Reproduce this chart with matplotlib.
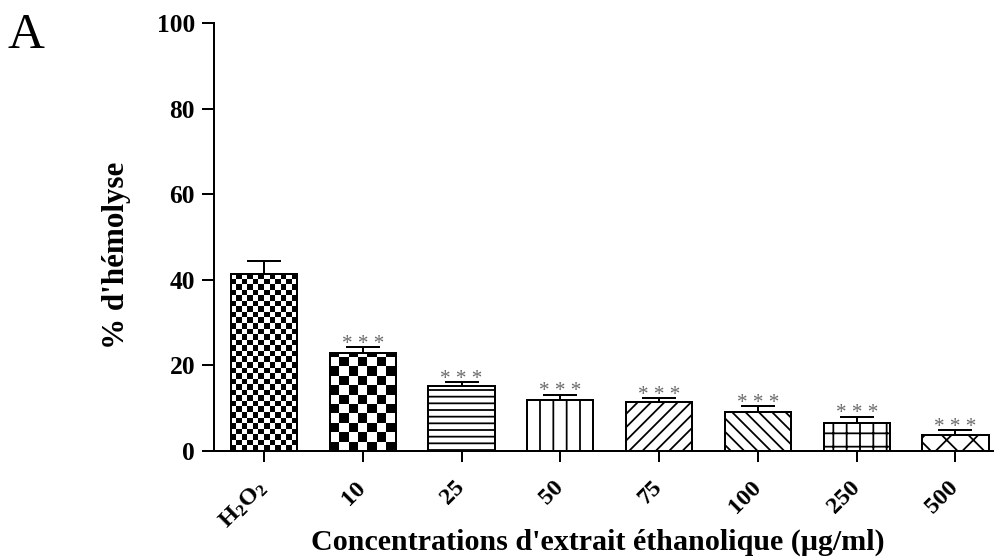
import numpy as np
import matplotlib.pyplot as plt

labels = [r'$\mathbf{H_2O_2}$', '10', '25', '50', '75', '100', '250', '500']
hemolyse = [41.3, 22.8, 15.1, 12.0, 11.5, 9.2, 6.6, 3.7]
sem = [3.2, 1.4, 1.0, 1.2, 0.9, 1.2, 1.4, 1.1]
signif = ['', '***', '***', '***', '***', '***', '***', '***']
hatches = [None, None, '--', '|', '//', '\\\\', '+', 'x']
# checkerboard: (columns across the bar, cell height in % units)
checkers = [(12, 1.3), (7, 2.2), None, None, None, None, None, None]

plt.rcParams['font.family'] = ['Liberation Serif', 'DejaVu Serif']
plt.rcParams['font.weight'] = 'bold'
plt.rcParams['axes.labelweight'] = 'bold'
plt.rcParams['mathtext.fontset'] = 'custom'
plt.rcParams['mathtext.bf'] = 'Liberation Serif:bold'
plt.rcParams['mathtext.rm'] = 'Liberation Serif:bold'
plt.rcParams['hatch.linewidth'] = 1.6
plt.rcParams['hatch.color'] = 'black'

fig = plt.figure(figsize=(994 / 80, 558 / 80), dpi=80)
ax = fig.add_axes([214 / 994, 107 / 558, 780 / 994, 428 / 558])

x = np.arange(len(labels))
width = 0.67

bars = ax.bar(x, hemolyse, width, facecolor='white', edgecolor='black',
              linewidth=1.8, zorder=3)
for b, h in zip(bars, hatches):
    if h:
        b.set_hatch(h)

# checkerboard fills
for i, (b, chk) in enumerate(zip(bars, checkers)):
    if chk is None:
        continue
    ncol, dy = chk
    x0 = b.get_x()
    xe = np.linspace(x0, x0 + b.get_width(), ncol + 1)
    nrow = int(np.ceil(b.get_height() / dy)) + 1
    ye = np.arange(nrow + 1) * dy
    board = (np.add.outer(np.arange(nrow), np.arange(ncol)) % 2).astype(float)
    mesh = ax.pcolormesh(xe, ye, board, cmap='gray', vmin=0, vmax=1,
                         zorder=3.5, shading='flat')
    mesh.set_clip_path(b)
    ax.bar(x[i], hemolyse[i], width, fill=False, edgecolor='black',
           linewidth=1.8, zorder=4)

ax.errorbar(x, hemolyse, yerr=[np.zeros(len(sem)), sem], fmt='none',
            ecolor='black', elinewidth=1.8, capsize=15, capthick=1.8, zorder=5)

for i in range(len(x)):
    if signif[i]:
        ax.annotate('* * *', xy=(x[i], hemolyse[i] + sem[i]), xytext=(0, -1.5),
                    textcoords='offset points', ha='center', va='baseline',
                    fontsize=19, fontweight='normal', color='#6a6a6a', zorder=6)

ax.set_xlim(-0.506, 7.39)
ax.set_ylim(0, 100)
ax.set_yticks([0, 20, 40, 60, 80, 100])
ax.set_xticks(x)
ax.set_xticklabels(labels, rotation=45, ha='right', va='center',
                   rotation_mode='anchor', fontsize=22)
ax.tick_params(axis='y', labelsize=23, length=11, width=1.8, pad=6)
ax.tick_params(axis='x', length=10, width=1.8, pad=20)
for s in ['top', 'right']:
    ax.spines[s].set_visible(False)
for s in ['left', 'bottom']:
    ax.spines[s].set_linewidth(1.8)

ax.set_ylabel("% d'hémolyse", fontsize=28, fontweight='bold')
ax.yaxis.set_label_coords(-0.106, 0.456)
ax.set_xlabel("Concentrations d'extrait éthanolique (µg/ml)", fontsize=27,
              fontweight='bold')
ax.xaxis.set_label_coords(0.492, -0.182)
ax.xaxis.label.set_va('top')

fig.text(8 / 994, 1 - 48 / 558, 'A', fontsize=46, fontweight='normal',
         ha='left', va='baseline')

fig.savefig('out.png', dpi=80)
